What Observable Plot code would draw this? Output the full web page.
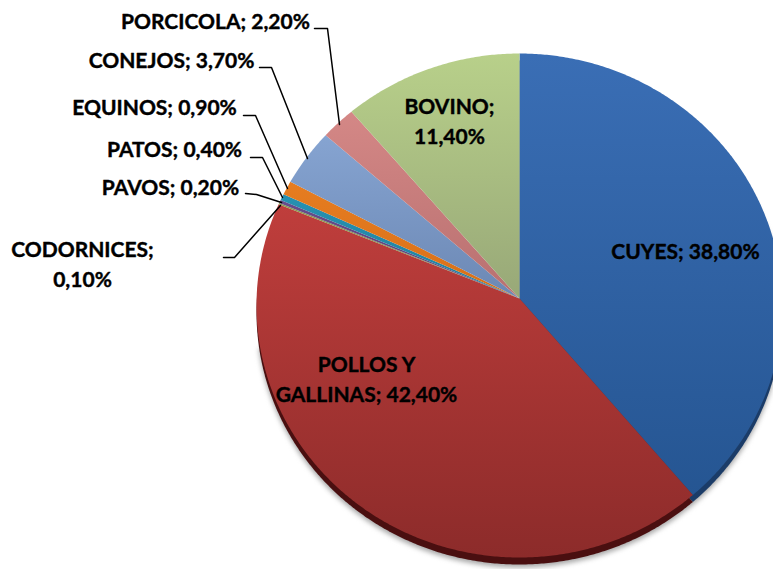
<!DOCTYPE html>
<html>
<head>
<meta charset="utf-8">
<script src="https://cdn.jsdelivr.net/npm/d3@7"></script>
<script src="https://cdn.jsdelivr.net/npm/@observablehq/plot@0.6"></script>
<style>
html,body{margin:0;padding:0;background:#fff;overflow:hidden}
svg{display:block}
</style>
</head>
<body>
<div id="chart"></div>
<script>
const categories = ["CUYES","POLLOS Y GALLINAS","CODORNICES","PAVOS","PATOS","EQUINOS","CONEJOS","PORCICOLA","BOVINO"];
const values = [38.8,42.4,0.1,0.2,0.4,0.9,3.7,2.2,11.4];
const topColors = ["#3a6eb5","#c03e3c","#a8c060","#7d5fa8","#2fa8c8","#f58a2a","#93b2e0","#dd8f8d","#b8d08a"];
const bottomColors = ["#245490","#8c2b2a","#7a8a40","#5a4078","#2080a0","#d87018","#6c88b4","#b87070","#98a878"];
const rimColors = ["#1b3c68","#4a0f10"];

const labelLines = ["CUYES; 38,80%","POLLOS Y","GALLINAS; 42,40%","CODORNICES;","0,10%","PAVOS; 0,20%","PATOS; 0,40%","EQUINOS; 0,90%","CONEJOS; 3,70%","PORCICOLA; 2,20%","BOVINO;","11,40%"];
const labelX = [685,366,366,82,82,170,174,154,171,215,449,449];
const labelY = [252,365,395,250,280,188,150,108,61,22,107,137];

const leaderNames = ["PORCICOLA","CONEJOS","EQUINOS","PATOS","PAVOS","CODORNICES"];
const leaderX = [[314,327,339],[259,271,307],[243,255,287],[250,262,282],[245,256,281],[223,234,280]];
const leaderY = [[28,28,124],[67,67,158],[115,115,188],[157,157,197],[193,194,202],[257,257,205]];

// The photographed pie is an ellipse whose apex sits a little above its centre
const ax = 519, ay = 298, ex = 519, ey = 305, rx = 263, ry = 252, skew = 1.035;
function rim(a, dy = 0) {
  const dx = Math.sin(a) * skew, dyy = -Math.cos(a);
  const ox = (ax - ex) / rx, oy = (ay - ey) / ry, ux = dx / rx, uy = dyy / ry;
  const A = ux * ux + uy * uy, B = 2 * (ox * ux + oy * uy), C = ox * ox + oy * oy - 1;
  const t = (-B + Math.sqrt(B * B - 4 * A * C)) / (2 * A);
  return {x: ax + t * dx, y: ay + t * dyy + dy};
}
function slice(start, end, dy = 0) {
  const pts = [{x: ax, y: ay + dy}];
  const n = Math.max(2, Math.ceil((end - start) * 120));
  for (let i = 0; i <= n; i++) pts.push(rim(start + (end - start) * i / n, dy));
  pts.push({x: ax, y: ay + dy});
  return pts;
}
const total = d3.sum(values);
let acc = 0;
const slices = values.map((v, i) => {
  const start = acc / total * 2 * Math.PI;
  acc += v;
  return {i, start, end: acc / total * 2 * Math.PI};
});

const defs = () => {
  const d = d3.create("svg:defs");
  categories.forEach((_, i) => {
    const g = d.append("linearGradient").attr("id", "g" + i)
      .attr("gradientUnits", "userSpaceOnUse")
      .attr("x1", 0).attr("x2", 0).attr("y1", i === 1 ? 200 : 53).attr("y2", i === 1 ? 560 : (i === 0 ? 520 : 298));
    g.append("stop").attr("offset", 0).attr("stop-color", topColors[i]);
    g.append("stop").attr("offset", 1).attr("stop-color", bottomColors[i]);
  });
  return d.node();
};

const lineRows = labelLines.map((t, i) => ({t, x: labelX[i], y: labelY[i]}));
const leaders = leaderNames.flatMap((name, k) => leaderX[k].map((x, j) => ({name, x, y: leaderY[k][j]})));

const plot = Plot.plot({
  width: 773, height: 569,
  margin: 0,
  x: {domain: [0, 773], range: [0, 773], axis: null},
  y: {domain: [0, 569], range: [0, 569], axis: null},
  style: {background: "#fff"},
  marks: [
    defs,
    Plot.line(slice(Math.PI * 0.3, Math.PI * 1.45, 10), {x: "x", y: "y", fill: "#a8a8a8", stroke: "none", imageFilter: "blur(2.5px)"}),
    ...slices.slice(0, 2).map(s => Plot.line(slice(s.start, s.end, 7), {x: "x", y: "y", fill: rimColors[s.i], stroke: "none"})),
    ...slices.map(s => Plot.line(slice(s.start, s.end), {x: "x", y: "y", fill: `url(#g${s.i})`, stroke: "none"})),
    Plot.line(leaders, {x: "x", y: "y", z: "name", stroke: "#000", strokeWidth: 1.5, curve: "linear"}),
    Plot.text(lineRows, {x: "x", y: "y", text: "t", fontFamily: "Lato", fontWeight: 700, fontSize: 21, fill: "#000", stroke: "#000", strokeWidth: 0.4, textAnchor: "middle", lineAnchor: "middle"})
  ]
});
document.getElementById("chart").append(plot);
</script>
</body>
</html>
